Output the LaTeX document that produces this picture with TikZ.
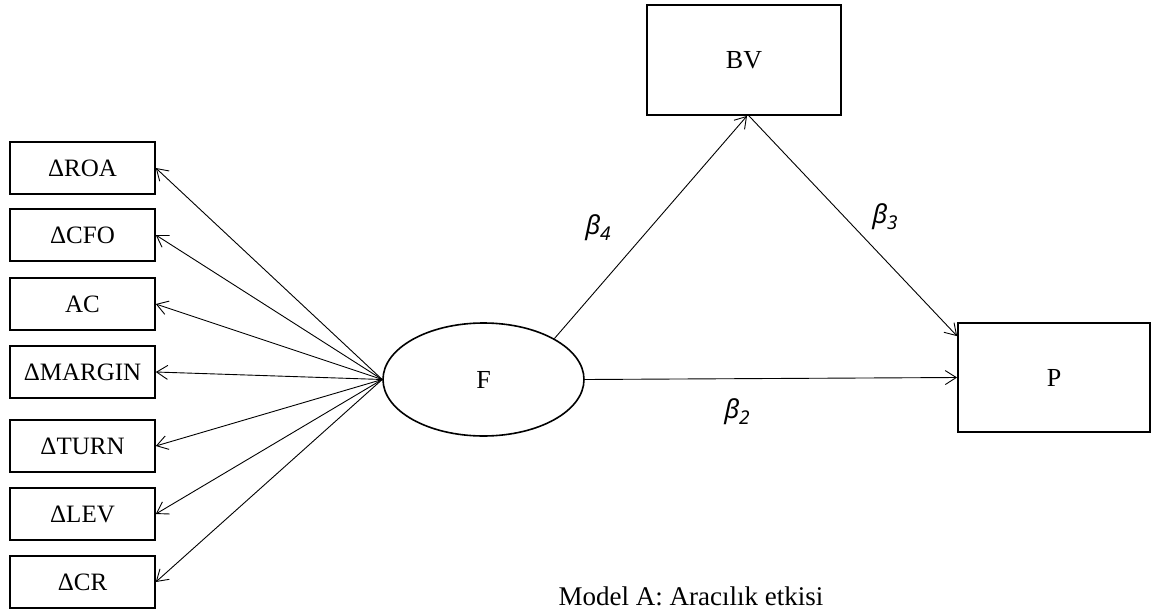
\documentclass[tikz,border=0pt]{standalone}
\usepackage{fontspec}
\setmainfont{Liberation Serif}
\newfontfamily\betafam{Noto Sans}
\usetikzlibrary{arrows.meta,shapes.geometric,calc}
\newcommand{\bsym}[1]{{\betafam\itshape\fontsize{26}{30}\selectfont β\raisebox{-6pt}{\fontsize{19}{22}\selectfont #1}}}
\begin{document}
\begin{tikzpicture}[x=1pt,y=-1pt,
  ind/.style={draw,line width=1.6pt,minimum width=145pt,minimum height=52pt,inner sep=0pt,font=\fontsize{25}{28}\selectfont},
  big/.style={draw,line width=1.8pt,inner sep=0pt,font=\fontsize{26}{30}\selectfont},
  conn/.style={line width=0.9pt,-{Straight Barb[length=11pt,width=14pt,line width=0.9pt]}}]
\useasboundingbox (0,0) rectangle (1157,613);
\node[ind] (roa) at (82.5,168) {ΔROA};
\node[ind] (cfo) at (82.5,235) {ΔCFO};
\node[ind] (ac) at (82.5,304) {AC};
\node[ind] (mar) at (82.5,372) {ΔMARGIN};
\node[ind] (turn) at (82.5,446) {ΔTURN};
\node[ind] (lev) at (82.5,514) {ΔLEV};
\node[ind] (cr) at (82.5,582) {ΔCR};
\node[big,ellipse,minimum width=201pt,minimum height=113pt,line width=1.6pt] (F) at (483.5,379.5) {F};
\node[big,minimum width=194pt,minimum height=110pt] (BV) at (744,60) {BV};
\node[big,minimum width=192pt,minimum height=109pt] (P) at (1054,377.5) {P};
\foreach \t in {roa,cfo,ac,mar,turn,lev,cr} \draw[conn] (F.west) -- (\t.east);
\draw[conn] (F.30) -- ($(BV.south)+(3,0)$);
\draw[conn] ($(BV.south)+(5,0)$) -- ($(P.north west)+(0,14)$);
\draw[conn] (F.east) -- (P.west);
\node (b4) at (598,228) {\bsym{4}};
\node (b3) at (885,217) {\bsym{3}};
\node (b2) at (737,412) {\bsym{2}};
\node[font=\fontsize{27}{30}\selectfont] (cap) at (691,596) {Model A: Aracılık etkisi};
\end{tikzpicture}
\end{document}
